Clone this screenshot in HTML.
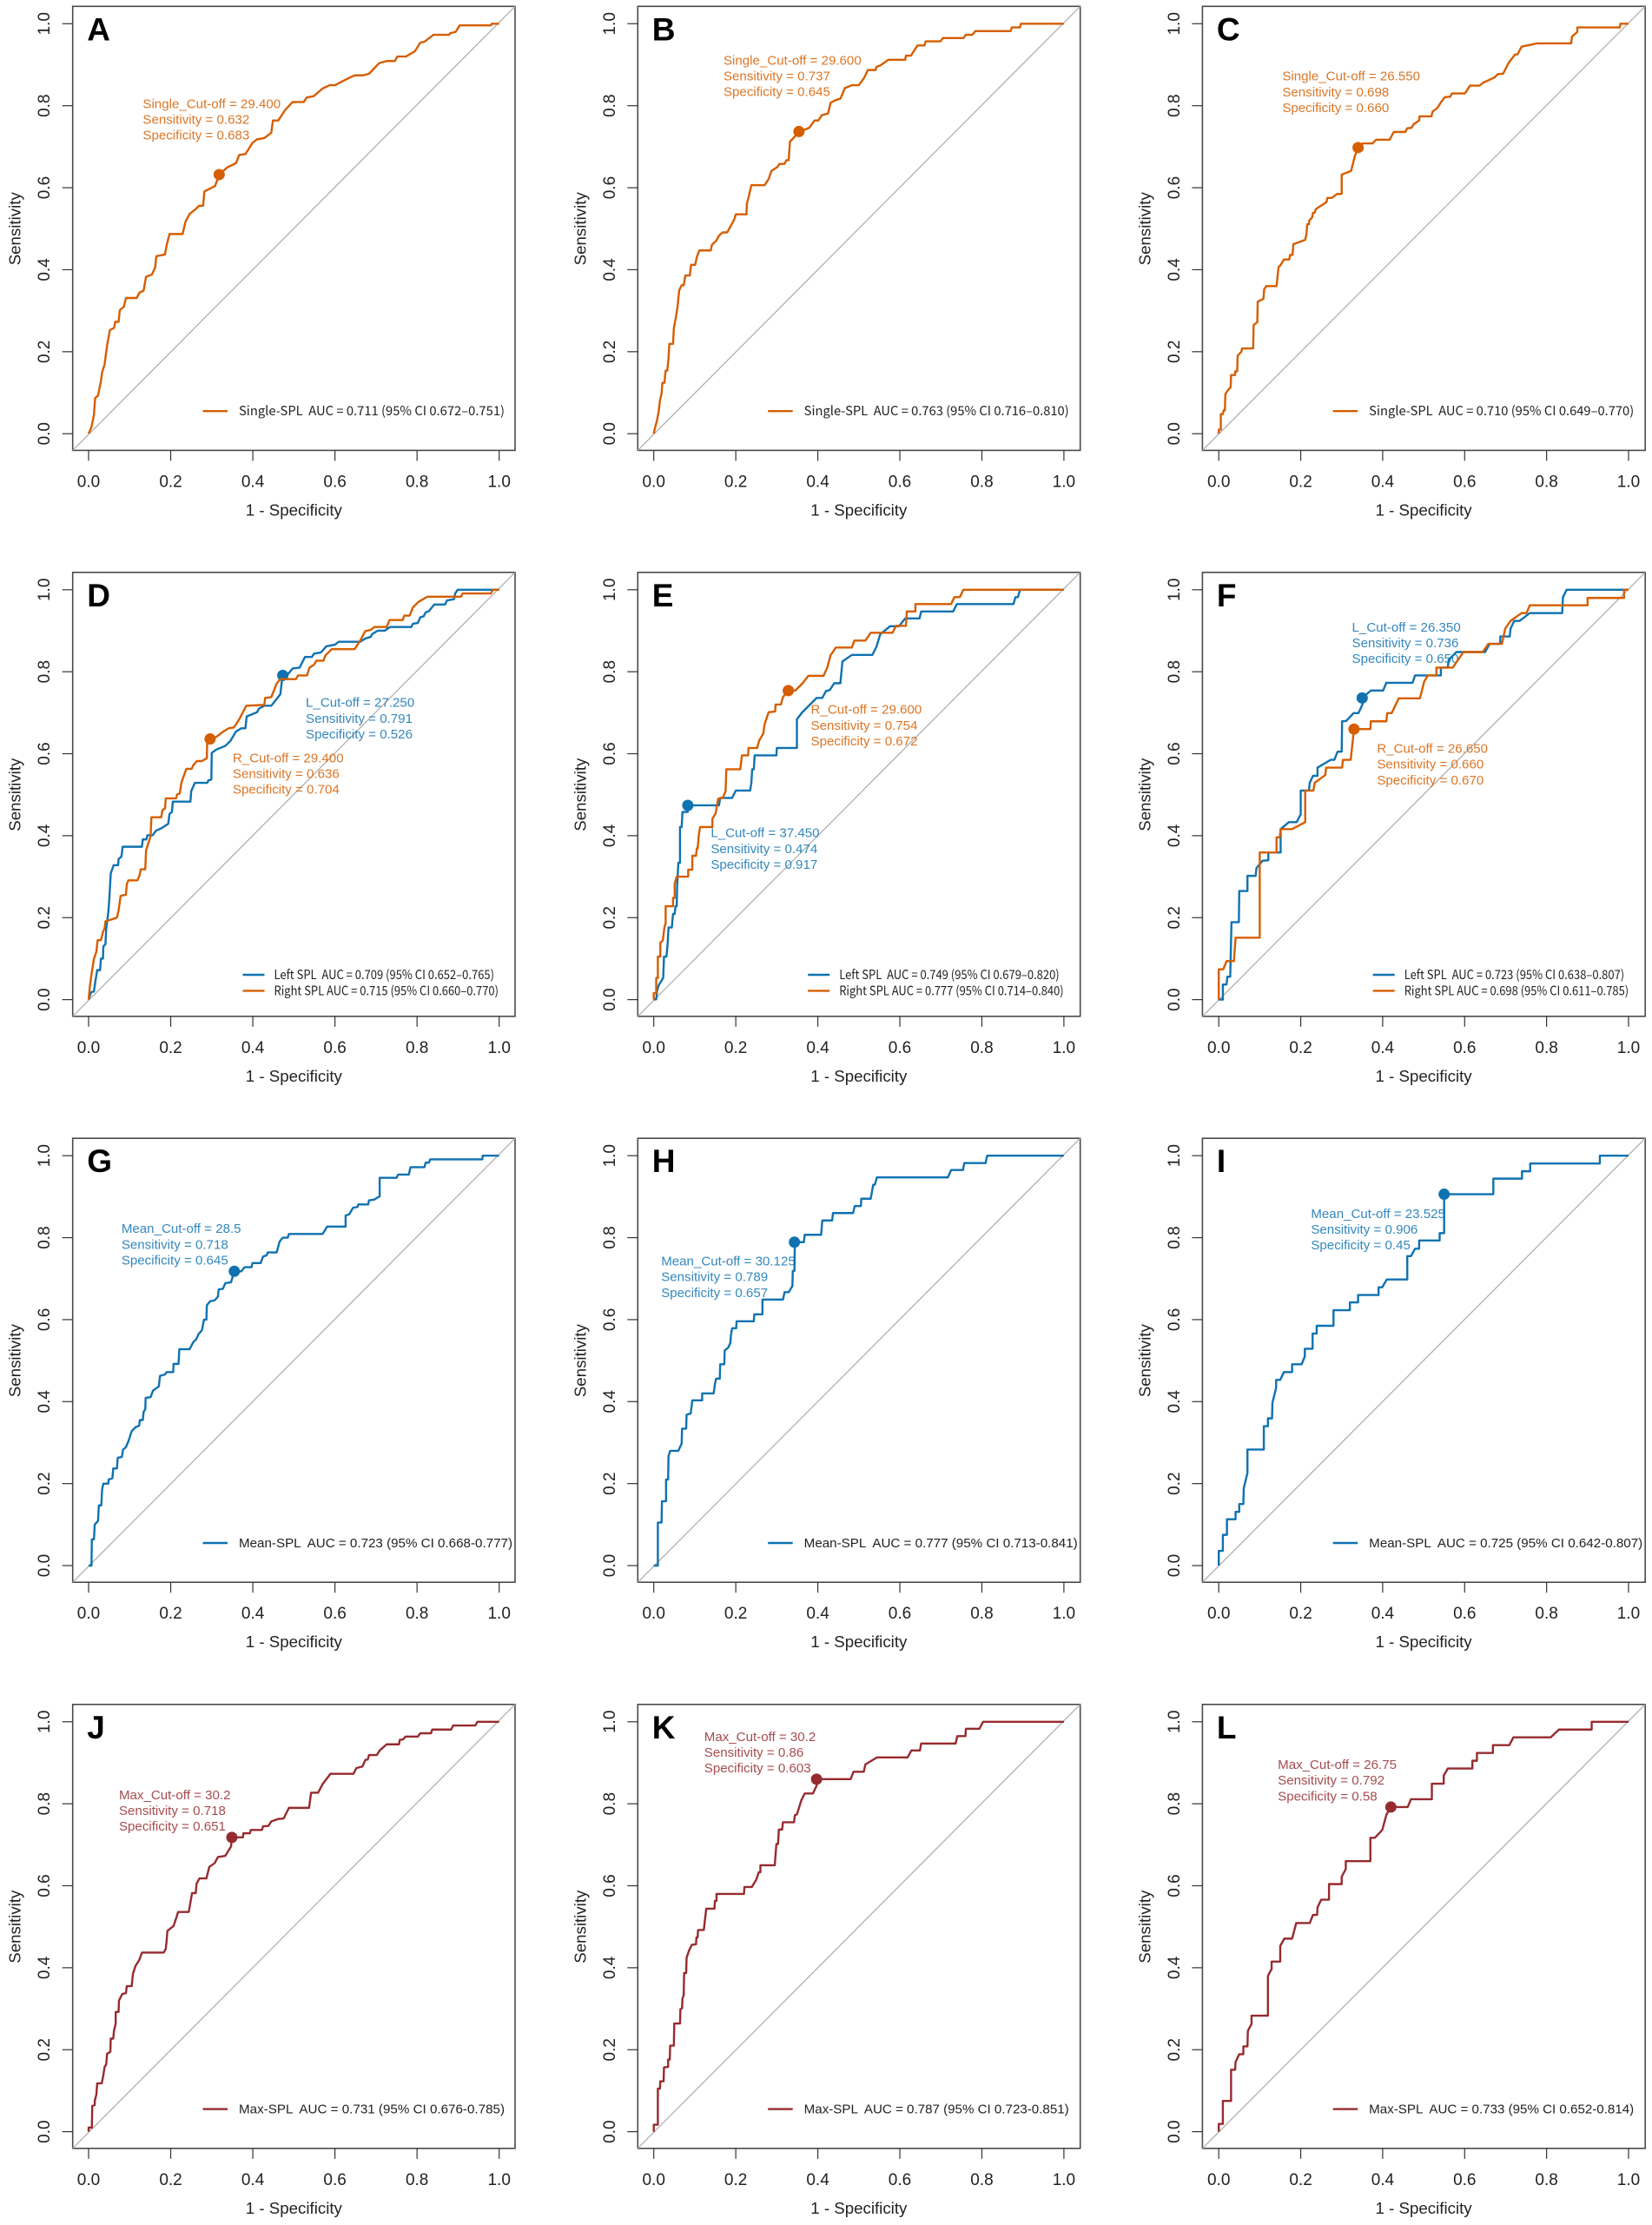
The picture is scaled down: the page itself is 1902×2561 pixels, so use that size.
<!DOCTYPE html>
<html lang="en">
<head>
<meta charset="utf-8">
<title>ROC curves of SPL measures, panels A to L</title>
<style>
html,body{margin:0;padding:0;background:#fff;}
svg{display:block;font-family:"Liberation Sans",Arial,sans-serif;}
text{white-space:pre;}
</style>
</head>
<body>
<svg id="chart" xmlns="http://www.w3.org/2000/svg" width="1902" height="2561" viewBox="0 0 1902 2561"></svg>
<script>
const axisTicks = [0, 0.2, 0.4, 0.6, 0.8, 1];
const axisTickLabels = ['0.0', '0.2', '0.4', '0.6', '0.8', '1.0'];

const curveA = [[0,0],[.007,.016],[.013,.046],[.016,.087],[.023,.093],[.030,.128],[.033,.150],[.039,.169],[.045,.215],[.052,.253],[.062,.258],[.065,.273],[.073,.273],[.076,.301],[.086,.310],[.091,.331],[.117,.331],[.124,.344],[.134,.349],[.140,.383],[.154,.388],[.162,.405],[.165,.433],[.186,.437],[.190,.459],[.197,.487],[.229,.487],[.236,.517],[.246,.536],[.261,.548],[.269,.556],[.279,.556],[.282,.591],[.308,.604],[.318,.632],[.337,.649],[.359,.660],[.367,.680],[.382,.682],[.399,.709],[.410,.718],[.428,.721],[.445,.734],[.449,.764],[.462,.764],[.479,.790],[.497,.809],[.524,.809],[.531,.820],[.548,.823],[.570,.842],[.587,.850],[.600,.850],[.635,.868],[.648,.874],[.669,.874],[.683,.878],[.708,.904],[.726,.909],[.746,.909],[.752,.920],[.773,.920],[.795,.933],[.808,.954],[.818,.956],[.840,.973],[.878,.973],[.881,.977],[.894,.980],[.904,.996],[.980,.996],[.982,1],[1,1]];
const curveB = [[0,0],[.002,.010],[.008,.033],[.012,.054],[.015,.080],[.019,.098],[.021,.124],[.026,.124],[.029,.154],[.033,.154],[.036,.184],[.038,.219],[.047,.219],[.049,.258],[.054,.284],[.058,.310],[.062,.350],[.068,.362],[.073,.362],[.077,.386],[.088,.386],[.091,.412],[.101,.412],[.105,.431],[.111,.447],[.139,.447],[.142,.461],[.152,.470],[.159,.483],[.168,.491],[.179,.491],[.189,.509],[.196,.522],[.200,.535],[.226,.535],[.227,.561],[.232,.580],[.238,.606],[.270,.606],[.280,.621],[.287,.641],[.302,.651],[.306,.658],[.319,.658],[.323,.667],[.329,.667],[.332,.712],[.354,.736],[.379,.746],[.392,.764],[.401,.764],[.410,.777],[.425,.781],[.431,.807],[.444,.814],[.455,.817],[.466,.843],[.483,.850],[.500,.850],[.513,.868],[.522,.887],[.541,.887],[.543,.895],[.552,.898],[.572,.912],[.613,.912],[.615,.922],[.627,.922],[.643,.947],[.660,.947],[.663,.957],[.699,.957],[.705,.965],[.755,.965],[.761,.973],[.777,.973],[.784,.982],[.870,.982],[.873,.991],[.893,.991],[.895,1],[1,1]];
const curveC = [[0,0],[0,.010],[.005,.010],[.005,.048],[.010,.048],[.012,.057],[.015,.057],[.016,.096],[.022,.106],[.029,.113],[.030,.143],[.040,.143],[.040,.152],[.045,.152],[.046,.190],[.055,.200],[.057,.208],[.084,.208],[.085,.265],[.094,.272],[.095,.322],[.109,.329],[.111,.353],[.116,.360],[.141,.360],[.146,.407],[.150,.410],[.159,.425],[.172,.425],[.174,.436],[.180,.436],[.182,.462],[.211,.473],[.214,.487],[.216,.511],[.220,.511],[.221,.520],[.228,.528],[.230,.539],[.234,.539],[.237,.548],[.263,.565],[.265,.575],[.276,.575],[.289,.585],[.300,.585],[.300,.632],[.323,.641],[.332,.677],[.340,.698],[.351,.708],[.375,.708],[.384,.717],[.417,.717],[.427,.736],[.455,.736],[.460,.745],[.470,.746],[.476,.755],[.489,.764],[.490,.774],[.519,.774],[.522,.786],[.533,.794],[.544,.811],[.552,.821],[.565,.822],[.569,.830],[.601,.830],[.613,.849],[.636,.849],[.647,.857],[.673,.869],[.681,.877],[.694,.878],[.707,.904],[.723,.925],[.729,.925],[.739,.944],[.777,.952],[.860,.952],[.862,.969],[.875,.980],[.875,.991],[.979,.991],[.980,1],[1,1]];
const curveDLeft = [[0,0],[.006,.018],[.013,.020],[.017,.048],[.021,.072],[.028,.072],[.030,.100],[.035,.100],[.036,.130],[.041,.135],[.043,.174],[.048,.213],[.050,.239],[.054,.308],[.061,.328],[.072,.328],[.073,.343],[.080,.349],[.083,.373],[.130,.373],[.132,.391],[.141,.391],[.143,.401],[.156,.401],[.164,.412],[.177,.418],[.194,.429],[.197,.453],[.203,.458],[.205,.483],[.248,.483],[.250,.509],[.259,.529],[.289,.529],[.292,.535],[.299,.537],[.300,.602],[.311,.610],[.333,.619],[.346,.632],[.359,.654],[.372,.662],[.382,.662],[.385,.691],[.410,.701],[.415,.710],[.428,.717],[.445,.717],[.467,.745],[.471,.779],[.473,.791],[.484,.792],[.497,.808],[.514,.810],[.527,.836],[.544,.836],[.549,.844],[.566,.847],[.579,.862],[.600,.866],[.609,.873],[.661,.873],[.674,.881],[.687,.885],[.691,.892],[.704,.900],[.721,.900],[.734,.909],[.786,.909],[.790,.917],[.802,.919],[.808,.933],[.816,.935],[.821,.945],[.829,.948],[.842,.964],[.868,.964],[.873,.974],[.890,.977],[.893,.991],[.899,1],[1,1]];
const curveDRight = [[0,0],[.003,.031],[.007,.061],[.013,.100],[.019,.117],[.022,.145],[.030,.145],[.035,.165],[.039,.174],[.041,.191],[.069,.200],[.073,.217],[.078,.253],[.091,.256],[.093,.282],[.097,.291],[.119,.291],[.124,.303],[.127,.318],[.138,.318],[.140,.364],[.147,.386],[.151,.399],[.153,.445],[.177,.445],[.180,.463],[.186,.466],[.188,.491],[.213,.491],[.216,.501],[.222,.503],[.226,.529],[.232,.546],[.238,.563],[.251,.563],[.255,.572],[.264,.582],[.276,.582],[.288,.589],[.289,.636],[.311,.641],[.328,.654],[.341,.662],[.354,.664],[.367,.684],[.384,.717],[.428,.719],[.430,.736],[.445,.738],[.458,.771],[.467,.782],[.505,.782],[.510,.791],[.532,.791],[.538,.810],[.549,.817],[.555,.827],[.572,.827],[.577,.840],[.592,.855],[.648,.855],[.661,.875],[.674,.899],[.687,.902],[.696,.909],[.726,.909],[.733,.926],[.765,.926],[.769,.937],[.782,.937],[.790,.957],[.803,.970],[.825,.983],[.907,.983],[.911,.991],[.980,.991],[.985,1],[1,1]];
const curveELeft = [[0,0],[.006,.001],[.008,.022],[.012,.035],[.023,.053],[.025,.105],[.031,.105],[.034,.139],[.036,.176],[.044,.176],[.047,.209],[.051,.209],[.053,.228],[.056,.228],[.057,.278],[.060,.334],[.064,.334],[.064,.421],[.068,.421],[.070,.458],[.083,.458],[.084,.474],[.159,.474],[.162,.492],[.191,.492],[.200,.510],[.235,.510],[.238,.529],[.240,.562],[.244,.562],[.246,.596],[.299,.596],[.300,.614],[.349,.614],[.349,.684],[.362,.701],[.397,.736],[.411,.736],[.420,.753],[.429,.755],[.440,.772],[.455,.772],[.460,.825],[.483,.841],[.533,.841],[.543,.861],[.552,.891],[.576,.911],[.598,.911],[.613,.930],[.648,.930],[.652,.947],[.730,.947],[.739,.965],[.877,.965],[.882,.982],[.888,.982],[.893,1],[1,1]];
const curveERight = [[0,0],[0,.016],[.006,.016],[.006,.053],[.010,.053],[.010,.105],[.016,.105],[.016,.139],[.022,.144],[.026,.176],[.029,.187],[.029,.228],[.047,.228],[.047,.248],[.051,.248],[.051,.283],[.056,.300],[.084,.300],[.084,.317],[.094,.317],[.094,.351],[.103,.351],[.105,.369],[.107,.369],[.110,.403],[.113,.421],[.143,.421],[.143,.441],[.151,.455],[.157,.490],[.168,.492],[.175,.508],[.177,.562],[.211,.562],[.215,.596],[.230,.596],[.231,.614],[.252,.614],[.257,.632],[.267,.649],[.270,.671],[.280,.701],[.296,.703],[.297,.720],[.310,.720],[.315,.738],[.328,.754],[.345,.754],[.362,.771],[.377,.790],[.414,.790],[.423,.810],[.431,.840],[.444,.859],[.483,.859],[.489,.876],[.516,.876],[.529,.895],[.582,.895],[.591,.912],[.615,.912],[.617,.947],[.638,.947],[.638,.965],[.725,.965],[.733,.982],[.746,.982],[.755,1],[1,1]];
const curveFLeft = [[0,0],[.010,0],[.010,.037],[.019,.037],[.021,.056],[.028,.056],[.031,.189],[.049,.189],[.050,.265],[.070,.265],[.070,.302],[.090,.302],[.092,.321],[.107,.339],[.121,.340],[.121,.359],[.151,.359],[.151,.416],[.171,.433],[.190,.433],[.200,.452],[.200,.510],[.220,.510],[.222,.529],[.230,.546],[.241,.546],[.241,.566],[.273,.585],[.282,.585],[.290,.605],[.300,.605],[.301,.679],[.311,.680],[.329,.699],[.341,.699],[.350,.719],[.358,.743],[.371,.754],[.401,.754],[.409,.773],[.473,.773],[.479,.791],[.542,.791],[.542,.810],[.559,.810],[.561,.829],[.580,.848],[.650,.848],[.661,.868],[.687,.868],[.687,.886],[.710,.886],[.712,.905],[.721,.924],[.734,.924],[.759,.943],[.838,.943],[.840,.982],[.849,1],[1,1]];
const curveFRight = [[0,0],[0,.074],[.011,.074],[.019,.094],[.037,.094],[.041,.151],[.100,.151],[.100,.359],[.141,.359],[.141,.396],[.149,.396],[.151,.416],[.179,.416],[.211,.433],[.211,.510],[.231,.510],[.234,.529],[.260,.548],[.262,.566],[.301,.566],[.303,.585],[.322,.585],[.330,.660],[.370,.660],[.371,.679],[.409,.679],[.411,.699],[.422,.699],[.439,.735],[.491,.735],[.501,.775],[.510,.791],[.531,.791],[.531,.810],[.571,.810],[.597,.848],[.644,.848],[.658,.868],[.691,.868],[.699,.905],[.712,.924],[.739,.943],[.751,.943],[.759,.962],[.900,.962],[.900,.980],[.989,.980],[.989,1],[1,1]];
const curveG = [[0,0],[.007,0],[.008,.064],[.013,.064],[.015,.100],[.023,.109],[.025,.147],[.031,.147],[.033,.186],[.036,.200],[.048,.200],[.049,.210],[.058,.213],[.060,.237],[.069,.237],[.071,.263],[.081,.265],[.084,.283],[.091,.289],[.098,.306],[.105,.328],[.115,.338],[.123,.341],[.125,.355],[.132,.355],[.134,.375],[.138,.381],[.139,.409],[.151,.411],[.157,.427],[.171,.437],[.174,.463],[.186,.466],[.190,.472],[.206,.472],[.207,.492],[.219,.492],[.221,.528],[.246,.528],[.255,.545],[.262,.552],[.268,.565],[.276,.574],[.281,.600],[.287,.600],[.288,.635],[.296,.645],[.307,.647],[.315,.656],[.317,.674],[.327,.675],[.333,.689],[.347,.691],[.350,.702],[.356,.718],[.372,.718],[.380,.728],[.397,.728],[.399,.738],[.419,.738],[.425,.754],[.434,.757],[.436,.764],[.458,.764],[.465,.790],[.473,.800],[.485,.800],[.488,.809],[.570,.809],[.581,.827],[.626,.827],[.626,.854],[.635,.857],[.644,.873],[.655,.875],[.657,.881],[.681,.881],[.683,.891],[.696,.893],[.709,.901],[.709,.946],[.750,.946],[.754,.954],[.780,.954],[.784,.972],[.818,.972],[.821,.983],[.829,.983],[.832,.991],[.959,.991],[.960,1],[1,1]];
const curveH = [[0,0],[.010,0],[.010,.105],[.019,.105],[.020,.157],[.030,.157],[.030,.210],[.035,.210],[.036,.267],[.040,.280],[.060,.280],[.068,.298],[.069,.334],[.079,.334],[.080,.368],[.090,.371],[.094,.403],[.118,.403],[.118,.420],[.146,.420],[.149,.442],[.152,.456],[.161,.456],[.162,.491],[.172,.491],[.173,.525],[.181,.531],[.187,.544],[.188,.561],[.191,.579],[.201,.579],[.202,.596],[.244,.596],[.245,.613],[.265,.613],[.265,.649],[.315,.649],[.319,.667],[.329,.667],[.338,.682],[.339,.719],[.343,.719],[.344,.789],[.366,.789],[.368,.807],[.408,.807],[.411,.842],[.435,.842],[.437,.860],[.486,.860],[.490,.877],[.505,.877],[.506,.895],[.529,.895],[.535,.929],[.539,.929],[.544,.947],[.717,.947],[.725,.965],[.754,.965],[.757,.982],[.809,.982],[.813,1],[1,1]];
const curveI = [[0,0],[0,.036],[.010,.036],[.010,.075],[.020,.075],[.020,.113],[.041,.113],[.041,.131],[.050,.131],[.050,.150],[.060,.150],[.061,.189],[.070,.226],[.070,.283],[.110,.283],[.110,.340],[.120,.340],[.120,.359],[.130,.359],[.131,.397],[.140,.434],[.140,.453],[.150,.453],[.159,.472],[.179,.472],[.179,.491],[.202,.491],[.210,.510],[.210,.529],[.229,.529],[.229,.566],[.239,.566],[.239,.585],[.280,.585],[.280,.623],[.320,.623],[.320,.642],[.340,.642],[.340,.660],[.390,.660],[.390,.679],[.399,.679],[.410,.698],[.460,.698],[.460,.755],[.469,.755],[.479,.773],[.489,.773],[.489,.793],[.539,.793],[.539,.811],[.550,.811],[.550,.906],[.670,.906],[.670,.944],[.740,.944],[.740,.962],[.760,.962],[.760,.981],[.930,.981],[.930,1],[1,1]];
const curveJ = [[0,0],[0,.010],[.008,.010],[.009,.063],[.015,.065],[.015,.075],[.019,.091],[.021,.118],[.032,.118],[.036,.138],[.039,.158],[.043,.164],[.045,.190],[.053,.195],[.054,.227],[.060,.227],[.062,.247],[.066,.264],[.066,.292],[.073,.292],[.074,.320],[.082,.336],[.091,.338],[.093,.355],[.105,.355],[.108,.385],[.114,.404],[.123,.418],[.130,.437],[.183,.437],[.188,.446],[.190,.465],[.192,.490],[.207,.502],[.214,.523],[.218,.536],[.244,.536],[.249,.565],[.252,.582],[.261,.582],[.263,.605],[.270,.618],[.287,.618],[.294,.646],[.307,.655],[.315,.670],[.333,.673],[.347,.696],[.349,.718],[.376,.718],[.377,.728],[.393,.728],[.395,.736],[.422,.736],[.425,.745],[.438,.746],[.445,.757],[.462,.763],[.475,.764],[.488,.790],[.537,.790],[.542,.827],[.559,.827],[.570,.848],[.589,.873],[.645,.873],[.652,.887],[.667,.891],[.674,.907],[.680,.908],[.683,.919],[.702,.919],[.709,.930],[.726,.945],[.756,.945],[.758,.956],[.766,.957],[.772,.964],[.802,.964],[.808,.972],[.834,.972],[.837,.981],[.883,.981],[.888,.991],[.942,.991],[.947,1],[1,1]];
const curveK = [[0,0],[0,.017],[.010,.017],[.010,.105],[.015,.105],[.016,.123],[.024,.123],[.025,.157],[.035,.158],[.035,.176],[.039,.176],[.040,.210],[.049,.210],[.050,.264],[.064,.264],[.065,.299],[.069,.301],[.070,.325],[.073,.333],[.074,.387],[.079,.387],[.080,.424],[.086,.442],[.093,.456],[.103,.457],[.104,.474],[.107,.474],[.108,.492],[.122,.492],[.128,.544],[.148,.544],[.149,.563],[.153,.563],[.153,.580],[.220,.580],[.221,.597],[.239,.597],[.250,.615],[.256,.633],[.260,.633],[.260,.650],[.295,.650],[.299,.702],[.303,.702],[.305,.737],[.313,.737],[.315,.755],[.342,.755],[.344,.772],[.349,.774],[.360,.809],[.368,.825],[.388,.825],[.397,.844],[.398,.860],[.480,.860],[.487,.878],[.512,.878],[.516,.896],[.544,.913],[.619,.913],[.628,.930],[.649,.930],[.652,.947],[.736,.947],[.740,.965],[.760,.965],[.761,.983],[.794,.983],[.803,1],[1,1]];
const curveL = [[0,0],[0,.019],[.010,.019],[.010,.075],[.030,.075],[.030,.151],[.040,.151],[.041,.170],[.050,.189],[.060,.189],[.060,.208],[.070,.208],[.071,.246],[.080,.263],[.080,.283],[.120,.283],[.120,.380],[.129,.397],[.129,.415],[.150,.415],[.150,.453],[.160,.471],[.179,.471],[.189,.509],[.222,.509],[.230,.529],[.240,.529],[.241,.547],[.250,.566],[.269,.566],[.269,.604],[.300,.604],[.300,.622],[.310,.641],[.310,.660],[.370,.660],[.370,.717],[.381,.717],[.399,.736],[.409,.773],[.420,.792],[.461,.792],[.469,.811],[.520,.811],[.520,.849],[.549,.849],[.549,.869],[.559,.886],[.619,.886],[.619,.905],[.630,.905],[.630,.924],[.669,.924],[.669,.943],[.709,.943],[.719,.962],[.810,.962],[.830,.981],[.910,.981],[.910,1],[1,1]];

const cutoffA = [.318, .632];
const cutoffB = [.354, .737];
const cutoffC = [.340, .698];
const cutoffDLeft = [.473, .791];
const cutoffDRight = [.296, .636];
const cutoffELeft = [.083, .474];
const cutoffERight = [.328, .754];
const cutoffFLeft = [.350, .736];
const cutoffFRight = [.330, .660];
const cutoffG = [.355, .718];
const cutoffH = [.343, .789];
const cutoffI = [.550, .906];
const cutoffJ = [.349, .718];
const cutoffK = [.397, .860];
const cutoffL = [.420, .792];

const ORANGE = '#D55E00', BLUE = '#0F72B0', RED = '#962B2F';
const SERIF_LEGEND = '"Noto Sans CJK SC","Liberation Sans",sans-serif';
const SANS_LEGEND = '"Liberation Sans",sans-serif';

const panels = [
  {letter:'A', col:0, row:0, font:SERIF_LEGEND, legendEnd:479, series:[
    {key:'single', color:ORANGE, curve:curveA, cutoff:cutoffA, anchor:[.132,.806], note:['Single_Cut-off = 29.400','Sensitivity = 0.632','Specificity = 0.683'], legend:'Single-SPL  AUC = 0.711 (95% CI 0.672–0.751)'}]},
  {letter:'B', col:1, row:0, font:SERIF_LEGEND, legendEnd:478, series:[
    {key:'single', color:ORANGE, curve:curveB, cutoff:cutoffB, anchor:[.170,.912], note:['Single_Cut-off = 29.600','Sensitivity = 0.737','Specificity = 0.645'], legend:'Single-SPL  AUC = 0.763 (95% CI 0.716–0.810)'}]},
  {letter:'C', col:2, row:0, font:SERIF_LEGEND, legendEnd:478, series:[
    {key:'single', color:ORANGE, curve:curveC, cutoff:cutoffC, anchor:[.155,.873], note:['Single_Cut-off = 26.550','Sensitivity = 0.698','Specificity = 0.660'], legend:'Single-SPL  AUC = 0.710 (95% CI 0.649–0.770)'}]},
  {letter:'D', col:0, row:1, font:SERIF_LEGEND, legendEnd:0, series:[
    {key:'left', color:BLUE, curve:curveDLeft, cutoff:cutoffDLeft, anchor:[.529,.726], note:['L_Cut-off = 27.250','Sensitivity = 0.791','Specificity = 0.526'], legend:'Left SPL  AUC = 0.709 (95% CI 0.652–0.765)', end:467},
    {key:'right', color:ORANGE, curve:curveDRight, cutoff:cutoffDRight, anchor:[.351,.591], note:['R_Cut-off = 29.400','Sensitivity = 0.636','Specificity = 0.704'], legend:'Right SPL AUC = 0.715 (95% CI 0.660–0.770)', end:472}]},
  {letter:'E', col:1, row:1, font:SERIF_LEGEND, legendEnd:0, series:[
    {key:'left', color:BLUE, curve:curveELeft, cutoff:cutoffELeft, anchor:[.139,.408], note:['L_Cut-off = 37.450','Sensitivity = 0.474','Specificity = 0.917'], legend:'Left SPL  AUC = 0.749 (95% CI 0.679–0.820)', end:467},
    {key:'right', color:ORANGE, curve:curveERight, cutoff:cutoffERight, anchor:[.383,.709], note:['R_Cut-off = 29.600','Sensitivity = 0.754','Specificity = 0.672'], legend:'Right SPL AUC = 0.777 (95% CI 0.714–0.840)', end:472}]},
  {letter:'F', col:2, row:1, font:SERIF_LEGEND, legendEnd:0, series:[
    {key:'left', color:BLUE, curve:curveFLeft, cutoff:cutoffFLeft, anchor:[.325,.910], note:['L_Cut-off = 26.350','Sensitivity = 0.736','Specificity = 0.650'], legend:'Left SPL  AUC = 0.723 (95% CI 0.638–0.807)', end:467},
    {key:'right', color:ORANGE, curve:curveFRight, cutoff:cutoffFRight, anchor:[.386,.614], note:['R_Cut-off = 26.650','Sensitivity = 0.660','Specificity = 0.670'], legend:'Right SPL AUC = 0.698 (95% CI 0.611–0.785)', end:472}]},
  {letter:'G', col:0, row:2, font:SANS_LEGEND, legendEnd:488, series:[
    {key:'mean', color:BLUE, curve:curveG, cutoff:cutoffG, anchor:[.080,.823], note:['Mean_Cut-off = 28.5','Sensitivity = 0.718','Specificity = 0.645'], legend:'Mean-SPL  AUC = 0.723 (95% CI 0.668-0.777)'}]},
  {letter:'H', col:1, row:2, font:SANS_LEGEND, legendEnd:488, series:[
    {key:'mean', color:BLUE, curve:curveH, cutoff:cutoffH, anchor:[.018,.744], note:['Mean_Cut-off = 30.125','Sensitivity = 0.789','Specificity = 0.657'], legend:'Mean-SPL  AUC = 0.777 (95% CI 0.713-0.841)'}]},
  {letter:'I', col:2, row:2, font:SANS_LEGEND, legendEnd:488, series:[
    {key:'mean', color:BLUE, curve:curveI, cutoff:cutoffI, anchor:[.225,.860], note:['Mean_Cut-off = 23.525','Sensitivity = 0.906','Specificity = 0.45'], legend:'Mean-SPL  AUC = 0.725 (95% CI 0.642-0.807)'}]},
  {letter:'J', col:0, row:3, font:SANS_LEGEND, legendEnd:479, series:[
    {key:'max', color:RED, curve:curveJ, cutoff:cutoffJ, anchor:[.074,.823], note:['Max_Cut-off = 30.2','Sensitivity = 0.718','Specificity = 0.651'], legend:'Max-SPL  AUC = 0.731 (95% CI 0.676-0.785)'}]},
  {letter:'K', col:1, row:3, font:SANS_LEGEND, legendEnd:478, series:[
    {key:'max', color:RED, curve:curveK, cutoff:cutoffK, anchor:[.123,.965], note:['Max_Cut-off = 30.2','Sensitivity = 0.86','Specificity = 0.603'], legend:'Max-SPL  AUC = 0.787 (95% CI 0.723-0.851)'}]},
  {letter:'L', col:2, row:3, font:SANS_LEGEND, legendEnd:478, series:[
    {key:'max', color:RED, curve:curveL, cutoff:cutoffL, anchor:[.144,.897], note:['Max_Cut-off = 26.75','Sensitivity = 0.792','Specificity = 0.58'], legend:'Max-SPL  AUC = 0.733 (95% CI 0.652-0.814)'}]}
];

const columnLayout = [
  {left:83.7, right:593, x0:102, x1:574.7},
  {left:734.3, right:1243.7, x0:752.7, x1:1224.9},
  {left:1384.4, right:1894.2, x0:1403.2, x1:1875}
];
const rowLayout = [
  {top:7.3, bottom:518.4, y1:27.3, y0:499.2},
  {top:658.8, bottom:1169.8, y1:678.8, y0:1150.6},
  {top:1310.2, bottom:1821.2, y1:1330.2, y0:1802},
  {top:1961.8, bottom:2472.8, y1:1981.8, y0:2453.6}
];

const NS = 'http://www.w3.org/2000/svg';
const root = document.getElementById('chart');

function make(tag, parent, attrs, content) {
  const node = document.createElementNS(NS, tag);
  for (const k in attrs) node.setAttribute(k, attrs[k]);
  if (content !== undefined) node.textContent = content;
  parent.appendChild(node);
  return node;
}

panels.forEach(function (panel) {
  const c = columnLayout[panel.col];
  const r = rowLayout[panel.row];
  const xAxis = function (v) { return c.x0 + v * (c.x1 - c.x0); };
  const yAxis = function (v) { return r.y0 - v * (r.y0 - r.y1); };
  const id = panel.letter.toLowerCase();
  let el;

  const group = make('g', root, {});
  
  

  el = make('rect', group, {x:c.left, y:r.top, width:c.right - c.left, height:r.bottom - r.top, fill:'#fff', stroke:'#4a4a4a', 'stroke-width':1.6});
  
  

  el = make('line', group, {x1:c.left, y1:r.bottom, x2:c.right, y2:r.top, stroke:'#b0b0b0', 'stroke-width':1.3});
  
  

  axisTicks.forEach(function (t, i) {
    let m = make('line', group, {x1:xAxis(t), x2:xAxis(t), y1:r.bottom, y2:r.bottom + 12, stroke:'#333', 'stroke-width':1.2});
    
    
    m = make('text', group, {x:xAxis(t), y:r.bottom + 42, 'font-size':19, fill:'#222', 'text-anchor':'middle'}, axisTickLabels[i]);
    
    
    m = make('line', group, {x1:c.left - 12, x2:c.left, y1:yAxis(t), y2:yAxis(t), stroke:'#333', 'stroke-width':1.2});
    
    
    const lx = c.left - 26.5;
    m = make('text', group, {x:lx, y:yAxis(t), 'font-size':19, fill:'#222', 'text-anchor':'middle', transform:'rotate(-90 ' + lx + ' ' + yAxis(t) + ')'}, axisTickLabels[i]);
    
    
  });

  el = make('text', group, {x:(c.x0 + c.x1) / 2, y:r.bottom + 75, 'font-size':18.7, fill:'#222', 'text-anchor':'middle'}, '1 - Specificity');
  
  

  const tx = c.left - 60;
  const ty = (r.y0 + r.y1) / 2;
  el = make('text', group, {x:tx, y:ty, 'font-size':18.7, fill:'#222', 'text-anchor':'middle', transform:'rotate(-90 ' + tx + ' ' + ty + ')'}, 'Sensitivity');
  
  

  el = make('text', group, {x:c.left + 16.5, y:r.top + 39, 'font-size':37, 'font-weight':'bold', fill:'#000'}, panel.letter);
  
  

  panel.series.forEach(function (s, idx) {
    const pts = s.curve.map(function (p) { return xAxis(p[0]).toFixed(2) + ',' + yAxis(p[1]).toFixed(2); }).join(' ');
    let m = make('polyline', group, {points:pts, fill:'none', stroke:s.color, 'stroke-width':2.4, 'stroke-linejoin':'round'});
    
    

    s.note.forEach(function (line, i) {
      const n = make('text', group, {x:xAxis(s.anchor[0]), y:yAxis(s.anchor[1]) + 5.5 + i * 18.2, 'font-size':15.1, fill:s.color, 'fill-opacity':0.85}, line);
      
      
    });

    m = make('circle', group, {cx:xAxis(s.cutoff[0]), cy:yAxis(s.cutoff[1]), r:6.5, fill:s.color});
    
    

    const two = panel.series.length === 2;
    const ly = r.y0 - (two ? (idx === 0 ? 28.6 : 10.2) : 26);
    const lineStart = c.x0 + (two ? 177.5 : 131.5);
    const lineEnd = c.x0 + (two ? 202.5 : 160);
    const textStart = c.x0 + (two ? 213.5 : 173);
    const textEnd = c.x0 + (two ? s.end : panel.legendEnd);

    m = make('line', group, {x1:lineStart, x2:lineEnd, y1:ly, y2:ly, stroke:s.color, 'stroke-width':2.4});
    
    

    m = make('text', group, {x:textStart, y:ly + 5, 'font-size':14.6, fill:'#222', 'font-family':panel.font, textLength:textEnd - textStart, lengthAdjust:'spacingAndGlyphs'}, s.legend);
    
    
  });
});
</script>
</body>
</html>
